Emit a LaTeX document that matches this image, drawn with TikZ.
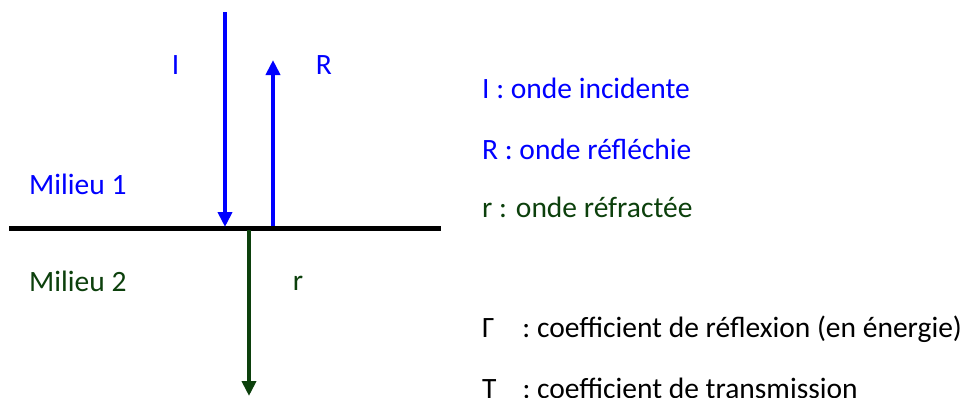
\documentclass[tikz,border=0pt]{standalone}
\usepackage{fontspec}
\setmainfont{Carlito}
\usetikzlibrary{arrows.meta}
\definecolor{wblue}{RGB}{0,0,255}
\definecolor{wgreen}{RGB}{12,64,12}
\tikzset{
  lbl/.style={inner sep=0pt, font=\fontsize{29.5}{32}\selectfont},
  wave/.style={line width=4pt, -{Triangle[width=14pt,length=15pt]}},
}
\begin{document}
\begin{tikzpicture}[x=1pt,y=-1pt]
\useasboundingbox (0,0) rectangle (964,397);
\clip (0,0) rectangle (964,397);
% interface
\coordinate (iL) at (9,228);
\coordinate (iR) at (441,228);
\draw[line width=5pt, black] (iL) -- (iR);
% arrows
\coordinate (Itop) at (225,12);
\coordinate (Ibot) at (225,227);
\coordinate (Rbot) at (273,226);
\coordinate (Rtop) at (273,60);
\coordinate (rtop) at (249,230);
\coordinate (rbot) at (249,396);
\draw[wave, wblue] (Itop) -- (Ibot);
\draw[wave, wblue] (Rbot) -- (Rtop);
\draw[wave, wgreen] (rtop) -- (rbot);
% left labels
\node[lbl, wblue, anchor=base] (lI) at (175.5,74) {I};
\node[lbl, wblue, anchor=base] (lR) at (324,74) {R};
\node[lbl, wgreen, anchor=base] (lr) at (298,290) {r};
\node[lbl, wblue, anchor=base west] (m1) at (29,194) {Milieu 1};
\node[lbl, wgreen, anchor=base west] (m2) at (29,291) {Milieu 2};
% legend
\node[lbl, wblue, anchor=base west] (t1) at (482,98) {I : onde incidente};
\node[lbl, wblue, anchor=base west] (t2) at (482,159) {R : onde réfléchie};
\node[lbl, wgreen, anchor=base west] (t3) at (482,217) {r : onde réfractée};
\node[lbl, black, anchor=base west] (t4) at (482,337) {Γ\hspace{28pt}: coefficient de réflexion (en énergie)};
\node[lbl, black, anchor=base west] (t5) at (482,398) {T\hspace{26pt}: coefficient de transmission};
\end{tikzpicture}
\end{document}
